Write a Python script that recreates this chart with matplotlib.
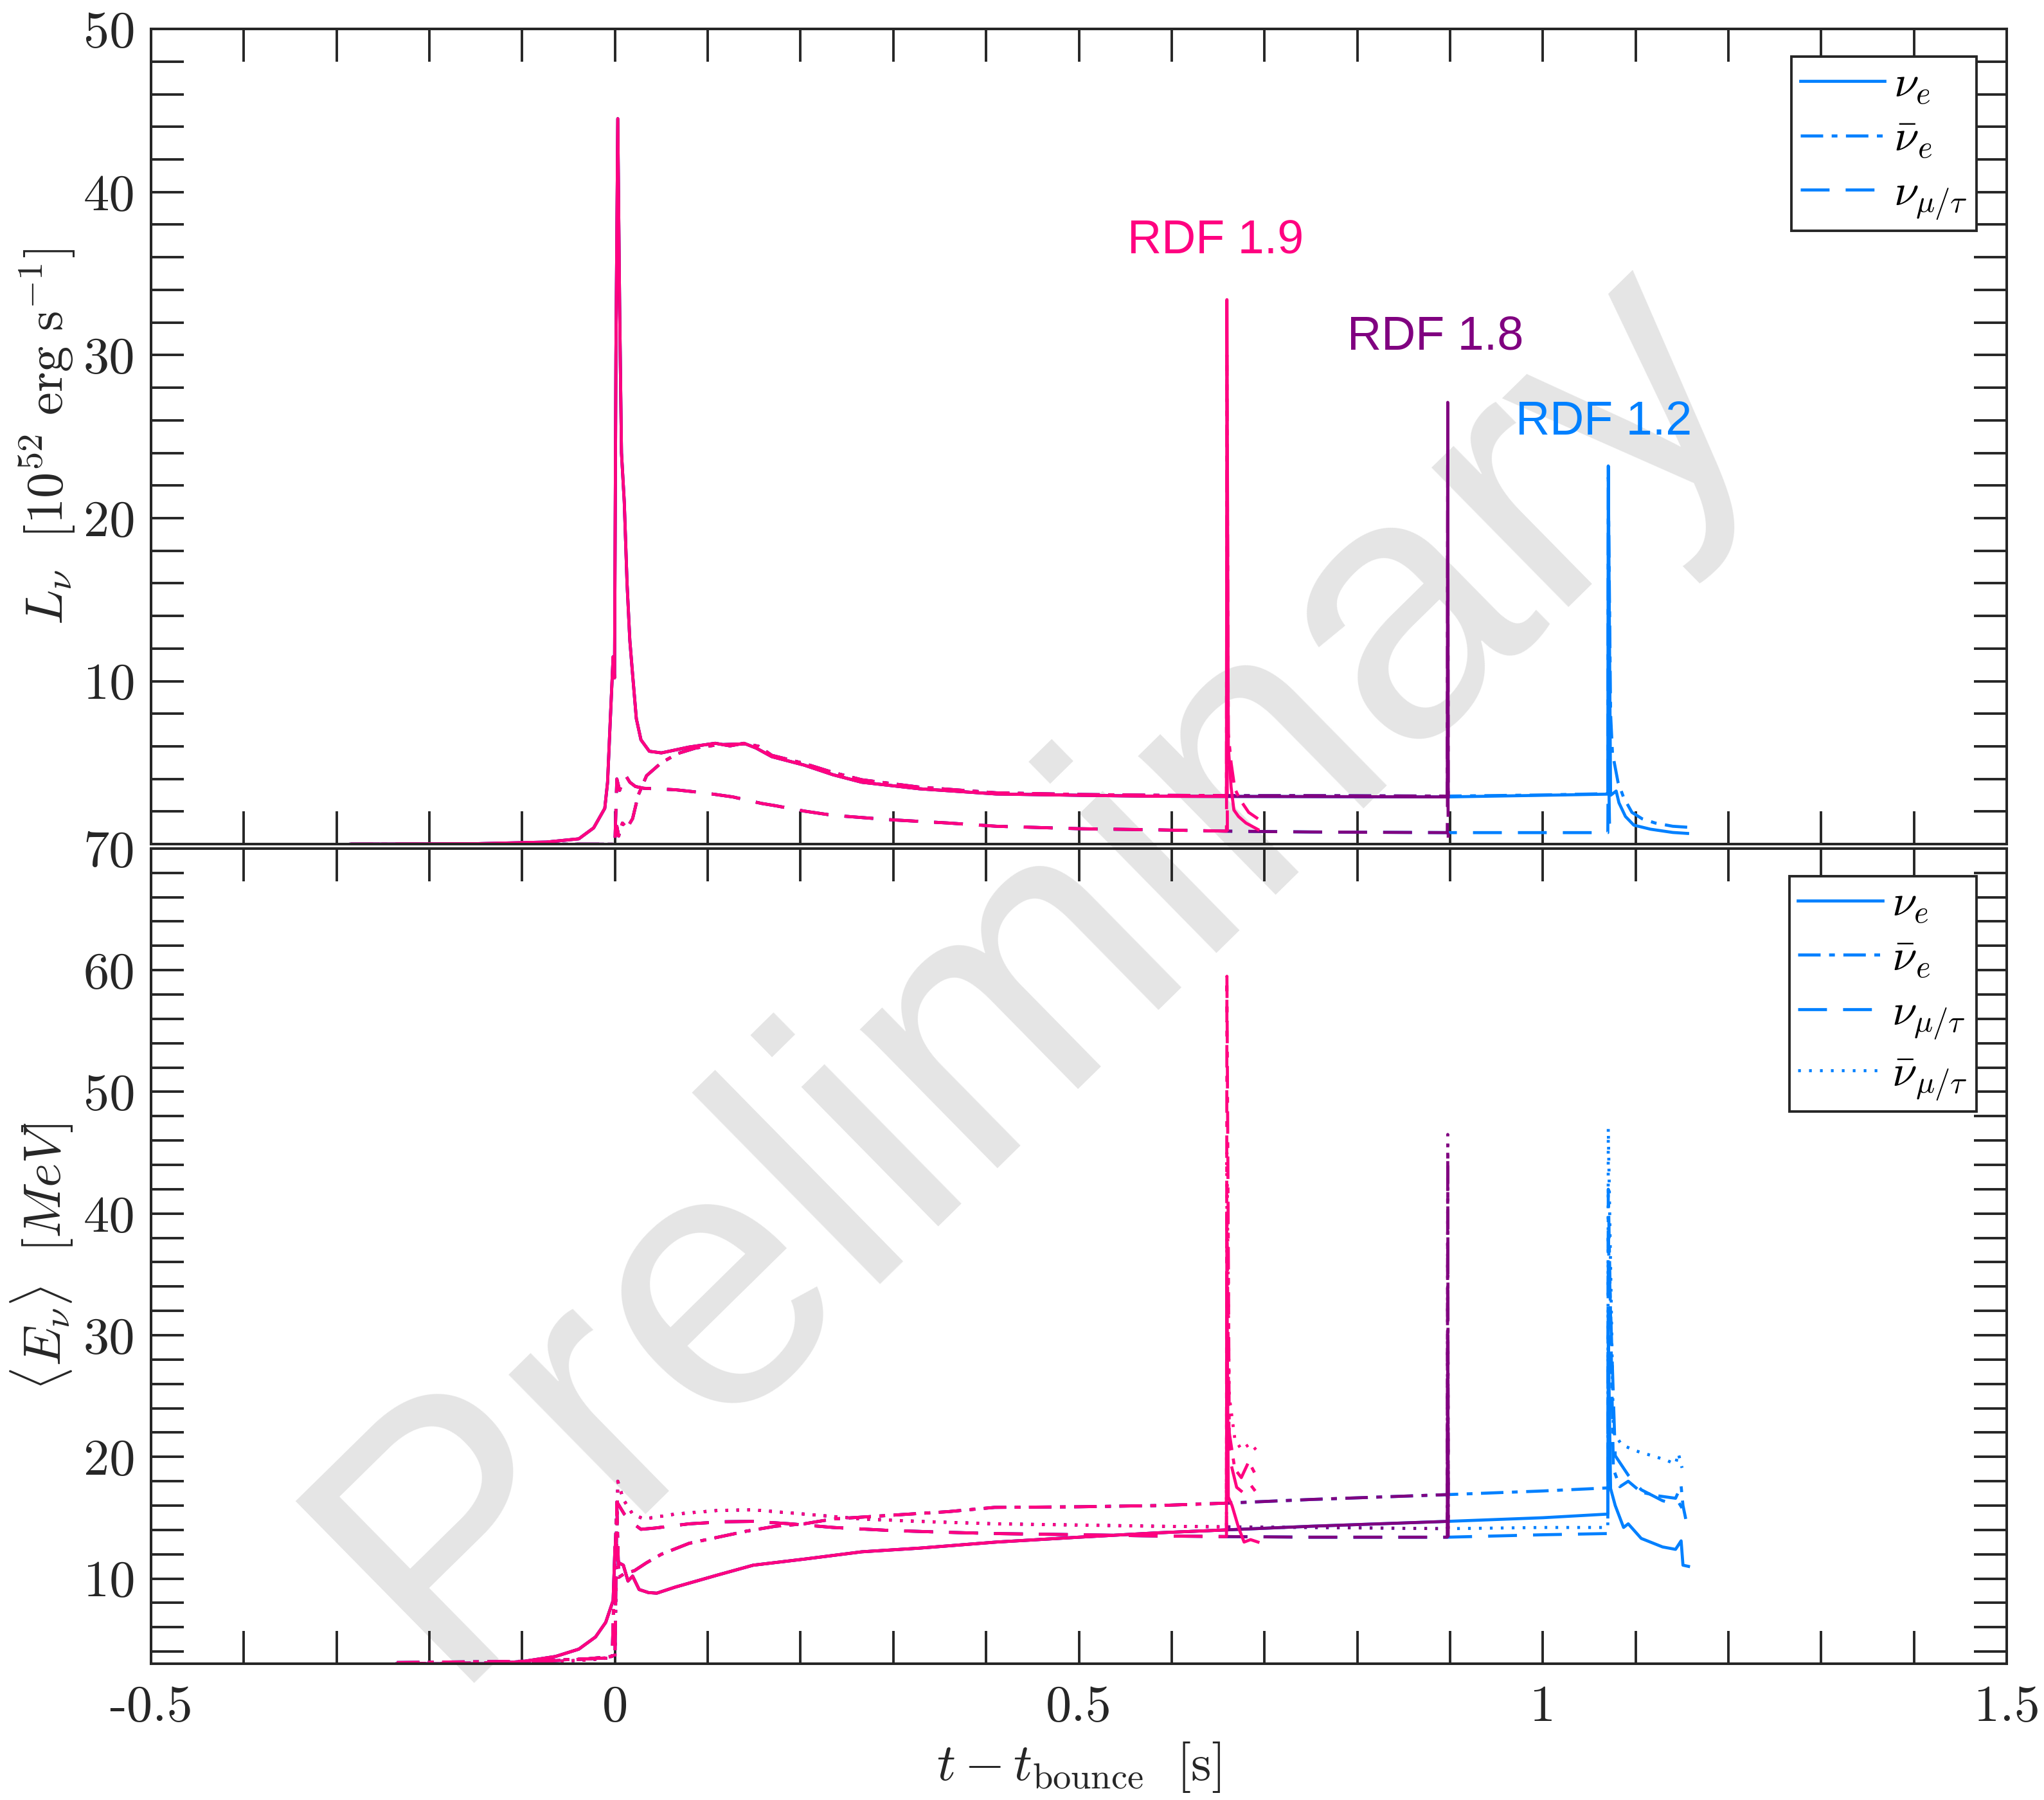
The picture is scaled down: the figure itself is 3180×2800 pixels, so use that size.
import numpy as np
import matplotlib
matplotlib.use('Agg')
import matplotlib.pyplot as plt
from matplotlib.ticker import MultipleLocator, FuncFormatter

plt.rcParams['font.family'] = 'cmr10'
plt.rcParams['mathtext.fontset'] = 'cm'
plt.rcParams['axes.unicode_minus'] = False
plt.rcParams['axes.formatter.use_mathtext'] = True

# ---------------- luminosity (10^52 erg/s), common evolution up to 0.659 s
lum_nue_t = [-0.285, -0.15, -0.074, -0.039, -0.023, -0.011, -0.008, -0.005, -0.002, -0.0005,
             0.001, 0.003, 0.005, 0.007, 0.010, 0.013, 0.016, 0.019, 0.023, 0.028, 0.037, 0.050,
             0.080, 0.108, 0.124, 0.139, 0.152, 0.169, 0.204, 0.235, 0.266, 0.328, 0.411, 0.500,
             0.585, 0.659]
lum_nue = [0.0, 0.03, 0.13, 0.33, 1.0, 2.2, 3.8, 7.7, 11.5, 10.2,
           30.0, 44.5, 33.0, 24.0, 21.0, 16.0, 12.5, 10.4, 7.7, 6.4, 5.7, 5.6,
           5.96, 6.19, 6.03, 6.19, 5.9, 5.37, 4.85, 4.26, 3.8, 3.4, 3.08, 3.0,
           2.94, 2.93]

lum_anue_t = [-0.285, -0.002, 0.0, 0.002, 0.004, 0.008, 0.013, 0.019, 0.025, 0.034, 0.050,
              0.068, 0.087, 0.111, 0.142, 0.155, 0.169, 0.204, 0.235, 0.266, 0.328, 0.411,
              0.500, 0.585, 0.659]
lum_anue = [0.0, 0.0, 0.1, 1.1, 0.5, 1.3, 1.0, 1.57, 3.0, 4.2, 5.0,
            5.57, 5.9, 6.1, 6.16, 6.0, 5.45, 4.95, 4.4, 3.95, 3.5, 3.15,
            3.05, 3.0, 2.98]

lum_nux_t = [-0.285, -0.002, 0.0, 0.002, 0.005, 0.011, 0.016, 0.022, 0.031, 0.065, 0.096,
             0.127, 0.158, 0.173, 0.204, 0.235, 0.297, 0.359, 0.411, 0.500, 0.585, 0.659]
lum_nux = [0.0, 0.0, 0.2, 4.0, 3.3, 4.26, 3.8, 3.54, 3.43, 3.34, 3.15,
           2.9, 2.5, 2.36, 2.03, 1.77, 1.5, 1.3, 1.1, 0.95, 0.88, 0.8]

# continuation shared by RDF 1.8 and RDF 1.2, then RDF 1.2 only
mid_t = [0.75, 0.897]
late_t = [1.0, 1.07]
lum_nue_mid, lum_nue_late = [2.92, 2.9], [3.0, 3.07]
lum_anue_mid, lum_anue_late = [2.98, 2.95], [3.02, 3.1]
lum_nux_mid, lum_nux_late = [0.75, 0.71], [0.71, 0.71]

# final burst of each run
lum_nue_19_t = [0.6595, 0.661, 0.664, 0.667, 0.672, 0.680, 0.693]
lum_nue_19 = [33.4, 6.0, 3.5, 2.1, 1.7, 1.3, 0.9]
lum_anue_19_t = [0.6595, 0.661, 0.664, 0.668, 0.674, 0.683, 0.693]
lum_anue_19 = [30.0, 6.8, 5.0, 3.4, 2.7, 1.95, 1.56]
lum_nux_19_t = [0.6595, 0.660]
lum_nux_19 = [9.0, 0.8]

lum_nue_18_t, lum_nue_18 = [0.8975, 0.898], [27.1, 2.9]
lum_anue_18_t, lum_anue_18 = [0.8975, 0.898], [26.0, 2.9]
lum_nux_18_t, lum_nux_18 = [0.8975, 0.898], [7.0, 0.4]

lum_nue_12_t = [1.0705, 1.073, 1.076, 1.079, 1.082, 1.089, 1.098, 1.116, 1.140, 1.156]
lum_nue_12 = [23.2, 3.0, 3.13, 3.26, 2.54, 1.7, 1.17, 0.92, 0.72, 0.66]
lum_anue_12_t = [1.0705, 1.073, 1.075, 1.081, 1.087, 1.096, 1.107, 1.121, 1.140, 1.156]
lum_anue_12 = [22.5, 8.0, 5.6, 3.8, 2.87, 1.95, 1.56, 1.3, 1.1, 1.04]
lum_nux_12_t, lum_nux_12 = [1.0705, 1.072], [6.0, 0.6]

# ---------------- mean energy (MeV), common evolution up to 0.659 s
en_nue_t = [-0.235, -0.134, -0.098, -0.064, -0.039, -0.021, -0.010, -0.002, 0.0, 0.004, 0.009,
            0.014, 0.019, 0.026, 0.036, 0.045, 0.065, 0.111, 0.149, 0.204, 0.266, 0.328,
            0.411, 0.500, 0.585, 0.659]
en_nue = [3.0, 3.0, 3.2, 3.6, 4.2, 5.2, 6.4, 8.2, 12.6, 11.3, 11.1,
          9.8, 10.2, 9.1, 8.85, 8.8, 9.3, 10.3, 11.1, 11.6, 12.2, 12.5,
          13.0, 13.4, 13.76, 14.0]

en_anue_t = [-0.235, -0.100, -0.030, -0.003, 0.0, 0.002, 0.004, 0.010, 0.021, 0.034, 0.050,
             0.080, 0.111, 0.142, 0.173, 0.204, 0.235, 0.297, 0.359, 0.409, 0.500, 0.585, 0.659]
en_anue = [3.1, 3.2, 3.4, 3.6, 12.0, 16.0, 10.1, 10.4, 10.65, 11.3, 12.0,
           12.9, 13.4, 13.9, 14.3, 14.5, 14.9, 15.2, 15.5, 15.85, 15.9, 16.0, 16.2]

en_nux_t = [-0.235, -0.100, -0.030, -0.003, 0.0, 0.002, 0.010, 0.020, 0.028, 0.043, 0.080,
            0.118, 0.149, 0.189, 0.235, 0.297, 0.359, 0.409, 0.500, 0.585, 0.659]
en_nux = [3.0, 3.1, 3.4, 3.5, 3.6, 16.3, 15.3, 14.5, 14.05, 14.15, 14.5,
          14.67, 14.7, 14.5, 14.2, 13.95, 13.8, 13.7, 13.6, 13.5, 13.45]

en_anux_t = [-0.235, -0.100, -0.030, -0.003, 0.0, 0.003, 0.009, 0.019, 0.031, 0.065, 0.111,
             0.149, 0.204, 0.266, 0.328, 0.409, 0.500, 0.585, 0.659]
en_anux = [3.0, 3.1, 3.3, 3.5, 3.6, 18.0, 16.5, 15.3, 14.9, 15.3, 15.6,
           15.65, 15.3, 14.9, 14.7, 14.5, 14.4, 14.3, 14.25]

en_nue_mid, en_nue_late = [14.3, 14.7], [15.0, 15.3]
en_anue_mid, en_anue_late = [16.5, 16.9], [17.2, 17.45]
en_nux_mid, en_nux_late = [13.4, 13.4], [13.6, 13.7]
en_anux_mid, en_anux_late = [14.2, 14.1], [14.2, 14.2]

en_nue_19_t = [0.6595, 0.661, 0.665, 0.672, 0.678, 0.685, 0.693]
en_nue_19 = [35.0, 16.7, 16.0, 14.2, 13.0, 13.2, 13.0]
en_anue_19_t = [0.6595, 0.662, 0.668, 0.675, 0.683, 0.690]
en_anue_19 = [59.5, 22.0, 19.0, 18.3, 19.6, 18.6]
en_nux_19_t = [0.6595, 0.662, 0.670, 0.678, 0.684, 0.690]
en_nux_19 = [40.0, 20.0, 17.5, 17.0, 17.8, 17.2]
en_anux_19_t = [0.6595, 0.662, 0.668, 0.675, 0.685, 0.693]
en_anux_19 = [45.0, 25.0, 21.5, 20.6, 21.1, 20.4]

en_18_t = [0.8975, 0.898]
en_nue_18 = [30.0, 14.7]
en_anue_18 = [45.0, 16.9]
en_nux_18 = [40.0, 13.4]
en_anux_18 = [46.5, 14.1]

en_nue_12_t = [1.0705, 1.073, 1.078, 1.087, 1.092, 1.106, 1.129, 1.143, 1.149, 1.151, 1.157]
en_nue_12 = [30.0, 17.4, 16.0, 14.2, 14.5, 13.3, 12.6, 12.4, 13.1, 11.1, 11.0]
en_anue_12_t = [1.0705, 1.076, 1.083, 1.092, 1.106, 1.124, 1.143, 1.149, 1.151, 1.154]
en_anue_12 = [42.0, 19.0, 17.55, 18.0, 17.1, 16.8, 16.6, 17.6, 16.0, 14.9]
en_nux_12_t = [1.0705, 1.078, 1.092, 1.106, 1.129, 1.143, 1.146, 1.150]
en_nux_12 = [38.0, 20.1, 18.5, 17.3, 16.4, 16.1, 16.3, 15.8]
en_anux_12_t = [1.0705, 1.076, 1.085, 1.100, 1.122, 1.134, 1.143, 1.146, 1.150]
en_anux_12 = [47.0, 22.0, 21.0, 20.5, 20.0, 19.7, 19.4, 20.3, 19.1]

labels = [r'$\nu_e$', r'$\bar{\nu}_e$', r'$\nu_{\mu/\tau}$', r'$\bar{\nu}_{\mu/\tau}$']
styles = ['-', (0, (7.4, 2.8, 1.9, 2.8)), (0, (9.5, 5.3)), (0, (0.9, 2.7))]
c12, c18, c19 = '#0080ff', '#800080', '#ff0080'
dark = '#262626'


def track(run, base_t, base_v, mid_v, late_v, tail_t, tail_v):
    # stitch the common part of the run with its own ending
    if run == 19:
        return np.r_[base_t, tail_t], np.r_[base_v, tail_v]
    if run == 18:
        return np.r_[base_t, mid_t, tail_t], np.r_[base_v, mid_v, tail_v]
    return np.r_[base_t, mid_t, late_t, tail_t], np.r_[base_v, mid_v, late_v, tail_v]


lum_series = {
    12: [(lum_nue_t, lum_nue, lum_nue_mid, lum_nue_late, lum_nue_12_t, lum_nue_12),
         (lum_anue_t, lum_anue, lum_anue_mid, lum_anue_late, lum_anue_12_t, lum_anue_12),
         (lum_nux_t, lum_nux, lum_nux_mid, lum_nux_late, lum_nux_12_t, lum_nux_12)],
    18: [(lum_nue_t, lum_nue, lum_nue_mid, lum_nue_late, lum_nue_18_t, lum_nue_18),
         (lum_anue_t, lum_anue, lum_anue_mid, lum_anue_late, lum_anue_18_t, lum_anue_18),
         (lum_nux_t, lum_nux, lum_nux_mid, lum_nux_late, lum_nux_18_t, lum_nux_18)],
    19: [(lum_nue_t, lum_nue, lum_nue_mid, lum_nue_late, lum_nue_19_t, lum_nue_19),
         (lum_anue_t, lum_anue, lum_anue_mid, lum_anue_late, lum_anue_19_t, lum_anue_19),
         (lum_nux_t, lum_nux, lum_nux_mid, lum_nux_late, lum_nux_19_t, lum_nux_19)],
}
en_series = {
    12: [(en_nue_t, en_nue, en_nue_mid, en_nue_late, en_nue_12_t, en_nue_12),
         (en_anue_t, en_anue, en_anue_mid, en_anue_late, en_anue_12_t, en_anue_12),
         (en_nux_t, en_nux, en_nux_mid, en_nux_late, en_nux_12_t, en_nux_12),
         (en_anux_t, en_anux, en_anux_mid, en_anux_late, en_anux_12_t, en_anux_12)],
    18: [(en_nue_t, en_nue, en_nue_mid, en_nue_late, en_18_t, en_nue_18),
         (en_anue_t, en_anue, en_anue_mid, en_anue_late, en_18_t, en_anue_18),
         (en_nux_t, en_nux, en_nux_mid, en_nux_late, en_18_t, en_nux_18),
         (en_anux_t, en_anux, en_anux_mid, en_anux_late, en_18_t, en_anux_18)],
    19: [(en_nue_t, en_nue, en_nue_mid, en_nue_late, en_nue_19_t, en_nue_19),
         (en_anue_t, en_anue, en_anue_mid, en_anue_late, en_anue_19_t, en_anue_19),
         (en_nux_t, en_nux, en_nux_mid, en_nux_late, en_nux_19_t, en_nux_19),
         (en_anux_t, en_anux, en_anux_mid, en_anux_late, en_anux_19_t, en_anux_19)],
}
run_colors = {12: c12, 18: c18, 19: c19}

fig = plt.figure(figsize=(15.9, 14), dpi=200)
ax1 = fig.add_axes([0.0739, 0.531, 0.9079, 0.4529])
ax2 = fig.add_axes([0.0739, 0.0757, 0.9079, 0.4529], sharex=ax1)

# watermark behind both panels
fig.text(0.507, 0.463, 'Preliminary', rotation=44.5, fontsize=207, color='#e5e5e5',
         ha='center', va='center', family='Liberation Sans', zorder=-1)

lw = 1.7
for run in [12, 18, 19]:
    for i, s in enumerate(lum_series[run]):
        t, v = track(run, *s)
        ax1.plot(t, v, color=run_colors[run], ls=styles[i], lw=lw,
                 label=labels[i] if run == 12 else None)
    for i, s in enumerate(en_series[run]):
        t, v = track(run, *s)
        ax2.plot(t, v, color=run_colors[run], ls=styles[i], lw=lw,
                 label=labels[i] if run == 12 else None)

ax1.text(0.647, 37.0, 'RDF 1.9', color=c19, ha='center', va='center',
         family='Liberation Sans', fontsize=26.5)
ax1.text(0.884, 31.1, 'RDF 1.8', color=c18, ha='center', va='center',
         family='Liberation Sans', fontsize=26.5)
ax1.text(1.066, 25.9, 'RDF 1.2', color=c12, ha='center', va='center',
         family='Liberation Sans', fontsize=26.5)

ax1.set_xlim(-0.5, 1.5)
ax1.set_ylim(0, 50)
ax2.set_ylim(3, 70)

for ax in (ax1, ax2):
    ax.set_facecolor('none')
    ax.xaxis.set_major_locator(MultipleLocator(0.5))
    ax.xaxis.set_minor_locator(MultipleLocator(0.1))
    ax.yaxis.set_major_locator(MultipleLocator(10))
    ax.yaxis.set_minor_locator(MultipleLocator(2))
    ax.tick_params(which='both', direction='in', top=True, right=True, length=18.4,
                   width=1.4, color=dark, labelcolor=dark, labelsize=29)
    ax.tick_params(axis='y', pad=9)
    ax.tick_params(axis='x', pad=12)
    for sp in ax.spines.values():
        sp.set_linewidth(1.45)
        sp.set_color(dark)
    leg = ax.legend(loc='upper right', bbox_to_anchor=(0.9837, 0.966), borderaxespad=0,
                    fontsize=25, handlelength=1.9, handletextpad=0.2, labelspacing=0.3,
                    fancybox=False, framealpha=1, edgecolor=dark, borderpad=0.2)
    leg.get_frame().set_linewidth(1.4)

ax1.yaxis.set_major_formatter(FuncFormatter(lambda v, p: '' if v == 0 else '%g' % v))
ax2.yaxis.set_major_formatter(FuncFormatter(lambda v, p: '%g' % v))
ax2.xaxis.set_major_formatter(FuncFormatter(lambda v, p: '%g' % v))
ax1.tick_params(axis='x', labelbottom=False)

ax1.set_ylabel(r'$L_\nu\ \ [10^{52}\ \mathrm{erg\ s}^{-1}]$', fontsize=29, color=dark)
ax2.set_ylabel(r'$\langle E_\nu\rangle\ \ [MeV]$', fontsize=29, color=dark)
ax2.set_xlabel(r'$t - t_{\mathrm{bounce}}\ \ [\mathrm{s}]$', fontsize=29, color=dark)
ax1.yaxis.set_label_coords(-0.040, 0.5)
ax2.yaxis.set_label_coords(-0.041, 0.5)
ax2.xaxis.set_label_coords(0.5, -0.094)

fig.savefig('out.png', dpi=200)
